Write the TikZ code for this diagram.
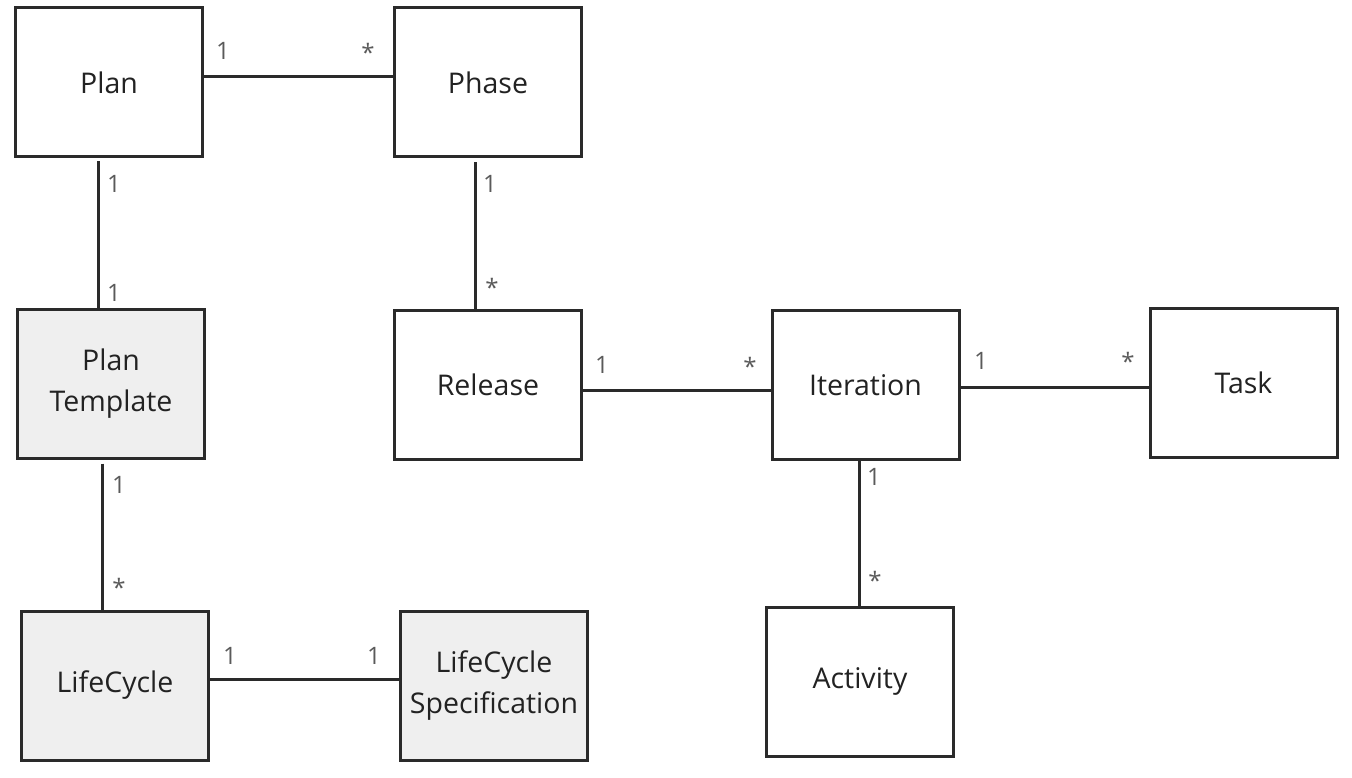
\documentclass[tikz,border=0pt]{standalone}
\usepackage{fontspec}
\setmainfont{Open Sans}
\definecolor{boxgray}{HTML}{EFEFEF}
\definecolor{txt}{HTML}{222222}
\definecolor{lbl}{HTML}{5A5A5A}
\definecolor{edge}{HTML}{2A2A2A}
\begin{document}
\begin{tikzpicture}[x=1pt,y=-1pt,
  cls/.style={draw=edge,line width=3pt,rectangle,inner sep=0pt,
    minimum width=187pt,minimum height=149pt,align=center,text=txt,
    font=\fontsize{28.5}{41}\selectfont},
  shaded/.style={cls,fill=boxgray},
  conn/.style={draw=edge,line width=3pt},
  mult/.style={text=lbl,font=\fontsize{24}{26}\selectfont,inner sep=0pt}]
\useasboundingbox[fill=white] (0,0) rectangle (1352,778);
% classes
\node[cls] (plan) at (109,82.5) {Plan};
\node[cls] (phase) at (488,82.5) {Phase};
\node[shaded] (ptemp) at (111,383.5) {Plan\\Template};
\node[cls] (release) at (488,385) {Release};
\node[cls] (iter) at (865.5,385) {Iteration};
\node[cls] (task) at (1243.5,383) {Task};
\node[shaded] (life) at (115,685.5) {LifeCycle};
\node[shaded] (spec) at (494,685.5) {LifeCycle\\Specification};
\node[cls] (act) at (860,681.5) {Activity};
% connectors
\draw[conn] ([yshift=5.5pt]plan.east) -- ([yshift=5.5pt]phase.west);
\draw[conn,shorten <=3pt] ([xshift=-10.5pt]plan.south) -- ([xshift=-12.5pt]ptemp.north);
\draw[conn,shorten <=4pt] ([xshift=-12.5pt]phase.south) -- ([xshift=-12.5pt]release.north);
\draw[conn] ([yshift=-5pt]release.east) -- ([yshift=-5pt]iter.west);
\draw[conn] ([yshift=-2pt]iter.east) -- ([yshift=-4pt]task.west);
\draw[conn] ([xshift=-6.5pt]iter.south) -- ([xshift=-1pt]act.north);
\draw[conn,shorten <=4pt] ([xshift=-9pt]ptemp.south) -- ([xshift=-13pt]life.north);
\draw[conn] ([yshift=6.5pt]life.east) -- ([yshift=6.5pt]spec.west);
% multiplicities
\node[mult] (m1) at (223,51) {1};
\node[mult] (m2) at (368,52) {*};
\node[mult] (m3) at (114,184) {1};
\node[mult] (m4) at (114,293) {1};
\node[mult] (m5) at (490,184) {1};
\node[mult] (m6) at (492,287) {*};
\node[mult] (m7) at (602,365) {1};
\node[mult] (m8) at (750,366) {*};
\node[mult] (m9) at (981,361) {1};
\node[mult] (m10) at (1128,361) {*};
\node[mult] (m11) at (874,477) {1};
\node[mult] (m12) at (875,580) {*};
\node[mult] (m13) at (119,485) {1};
\node[mult] (m14) at (119,587) {*};
\node[mult] (m15) at (230,656) {1};
\node[mult] (m16) at (374,656) {1};
\end{tikzpicture}
\end{document}
